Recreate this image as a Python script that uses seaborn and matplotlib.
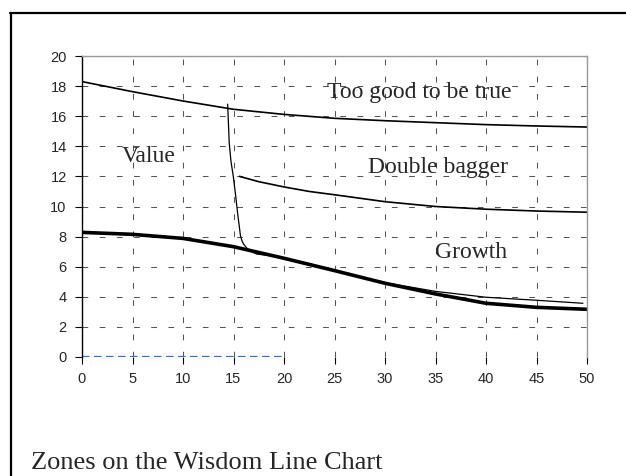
import numpy as np
import pandas as pd
import matplotlib
matplotlib.use("Agg")
import matplotlib.pyplot as plt
import seaborn as sns
from matplotlib.lines import Line2D

# boundary curves
upper_x = [0, 5, 10, 15, 20, 25, 30, 35, 40, 45, 50]
upper_y = [18.3, 17.63, 17.01, 16.46, 16.12, 15.86, 15.70, 15.57, 15.44, 15.35, 15.28]

middle_x = [15.6, 17.5, 20, 22.5, 25, 30, 35, 40, 45, 50]
middle_y = [12.0, 11.65, 11.3, 11.0, 10.78, 10.32, 10.0, 9.82, 9.7, 9.62]

growth_x = [0, 5, 10, 15, 20, 25, 30, 35, 40, 45, 50]
growth_y = [8.28, 8.15, 7.88, 7.33, 6.56, 5.74, 4.9, 4.19, 3.57, 3.3, 3.17]

thin_x = [14.42, 14.5, 14.58, 14.75, 14.98, 15.2, 15.4, 15.55, 15.68, 15.82, 16.0, 16.3,
          16.7, 17.3, 18.3, 19.3, 20, 22.5, 25, 27.5, 30, 35, 40, 45, 49.6]
thin_y = [16.8, 15.5, 14.2, 13.0, 12.0, 10.8, 9.6, 8.8, 8.1, 7.75, 7.5, 7.25,
          7.02, 6.84, 6.76, 6.68, 6.57, 6.2, 5.78, 5.35, 4.94, 4.36, 3.97, 3.77, 3.57]

zero_x = [0, 20]
zero_y = [0, 0]

zone_labels = ["Value", "Too good to be true", "Double bagger", "Growth"]
zone_x = [6.6, 33.35, 35.28, 38.53]
zone_y = [12.98, 17.19, 12.25, 6.6]

title = "Zones on the Wisdom Line Chart"

sns.set_style("white")
plt.rcParams['font.family'] = ['Liberation Sans', 'DejaVu Sans']

fig = plt.figure(figsize=(6.26, 4.76), dpi=100)
ax = fig.add_axes([82 / 626, 119 / 476, 505 / 626, 301 / 476])

sns.lineplot(x=upper_x, y=upper_y, ax=ax, color="black", lw=1.2, sort=False, estimator=None)
sns.lineplot(x=middle_x, y=middle_y, ax=ax, color="black", lw=1.2, sort=False, estimator=None)
sns.lineplot(x=thin_x, y=thin_y, ax=ax, color="black", lw=0.9, sort=False, estimator=None)
sns.lineplot(x=growth_x, y=growth_y, ax=ax, color="black", lw=2.6, sort=False, estimator=None)
sns.lineplot(x=zero_x, y=zero_y, ax=ax, color="#3366ff", lw=1.6, linestyle=(0, (3.4, 2)),
             sort=False, estimator=None)

for lab, x, y in zip(zone_labels, zone_x, zone_y):
    ax.text(x, y, lab, ha="center", va="baseline", fontsize=17,
            family=["Liberation Serif", "DejaVu Serif"])

ax.set_xlim(0, 50)
ax.set_ylim(0, 20)
ax.set_xticks(range(0, 51, 5))
ax.set_yticks(range(0, 21, 2))
ax.grid(True, color="#555555", lw=0.75, linestyle=(0, (5.5, 11)))
ax.tick_params(axis="both", which="both", direction="out", length=5, width=0.8,
               color="black", labelsize=10.5, left=True, bottom=True, pad=6)
ax.spines["left"].set_color("black")
ax.spines["left"].set_linewidth(1.0)
ax.spines["bottom"].set_visible(False)
ax.spines["top"].set_color("#999999")
ax.spines["right"].set_color("#999999")
ax.spines["top"].set_linewidth(1.0)
ax.spines["right"].set_linewidth(1.0)
ax.set_xlabel("")
ax.set_ylabel("")

# partial outer frame (top and left edges)
fig.add_artist(Line2D([10 / 626, 1.0], [1 - 13 / 476, 1 - 13 / 476], color="black", lw=1.6,
                      transform=fig.transFigure))
fig.add_artist(Line2D([11 / 626, 11 / 626], [0.0, 1 - 13 / 476], color="black", lw=1.6,
                      transform=fig.transFigure))

fig.text(31 / 626, 7 / 476, title, ha="left", va="baseline", fontsize=19,
         family=["Liberation Serif", "DejaVu Serif"])

fig.savefig("out.png", dpi=100)
